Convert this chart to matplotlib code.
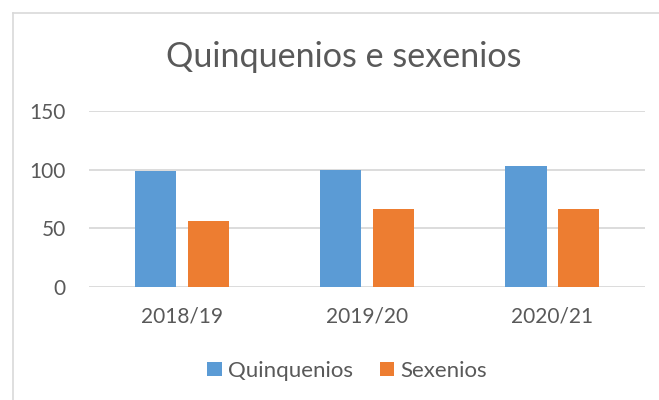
import matplotlib
matplotlib.use('Agg')
import matplotlib.pyplot as plt
import numpy as np
from matplotlib.lines import Line2D

# Data
categories = ['2018/19', '2019/20', '2020/21']
quinquenios = [99, 100, 103]
sexenios = [56, 67, 67]
series_names = ['Quinquenios', 'Sexenios']

plt.rcParams['font.family'] = ['Lato', 'DejaVu Sans']
text_color = '#595959'
grid_color = '#D9D9D9'

fig = plt.figure(figsize=(6.59, 4.0), dpi=100)
ax = fig.add_axes([0.1358, 0.2825, 0.843, 0.4388])

x = np.arange(len(categories))
w = 0.223
ax.bar(x - 0.143, quinquenios, w, color='#5B9BD5', label=series_names[0], zorder=3)
ax.bar(x + 0.1415, sexenios, w, color='#ED7D31', label=series_names[1], zorder=3)

ax.set_xlim(-0.5, 2.5)
ax.set_ylim(0, 150)
ax.set_yticks([0, 50, 100, 150])
ax.set_xticks(x)
ax.set_xticklabels(categories)
ax.yaxis.grid(True, color=grid_color, linewidth=1.3, zorder=0)
for s in ax.spines.values():
    s.set_visible(False)
ax.tick_params(axis='both', length=0, labelsize=15, colors=text_color)
ax.tick_params(axis='y', pad=17)
ax.tick_params(axis='x', pad=14)

fig.text(0.521, 0.857, 'Quinquenios e sexenios', ha='center', va='center',
         fontsize=24.6, color=text_color)

fig.legend(loc='center', bbox_to_anchor=(0.5266, 0.0725), ncol=2, frameon=False,
           fontsize=16, labelcolor=text_color, handlelength=0.65, handleheight=0.6,
           handletextpad=0.27, columnspacing=1.2)

# chart border (partly outside the image)
bx = 12.7 / 659
by = 1 - 12.7 / 400
fig.add_artist(Line2D([bx, bx], [0, by], color=grid_color, lw=1.2, transform=fig.transFigure))
fig.add_artist(Line2D([bx, 1], [by, by], color=grid_color, lw=1.2, transform=fig.transFigure))

fig.savefig('out.png', dpi=100)
